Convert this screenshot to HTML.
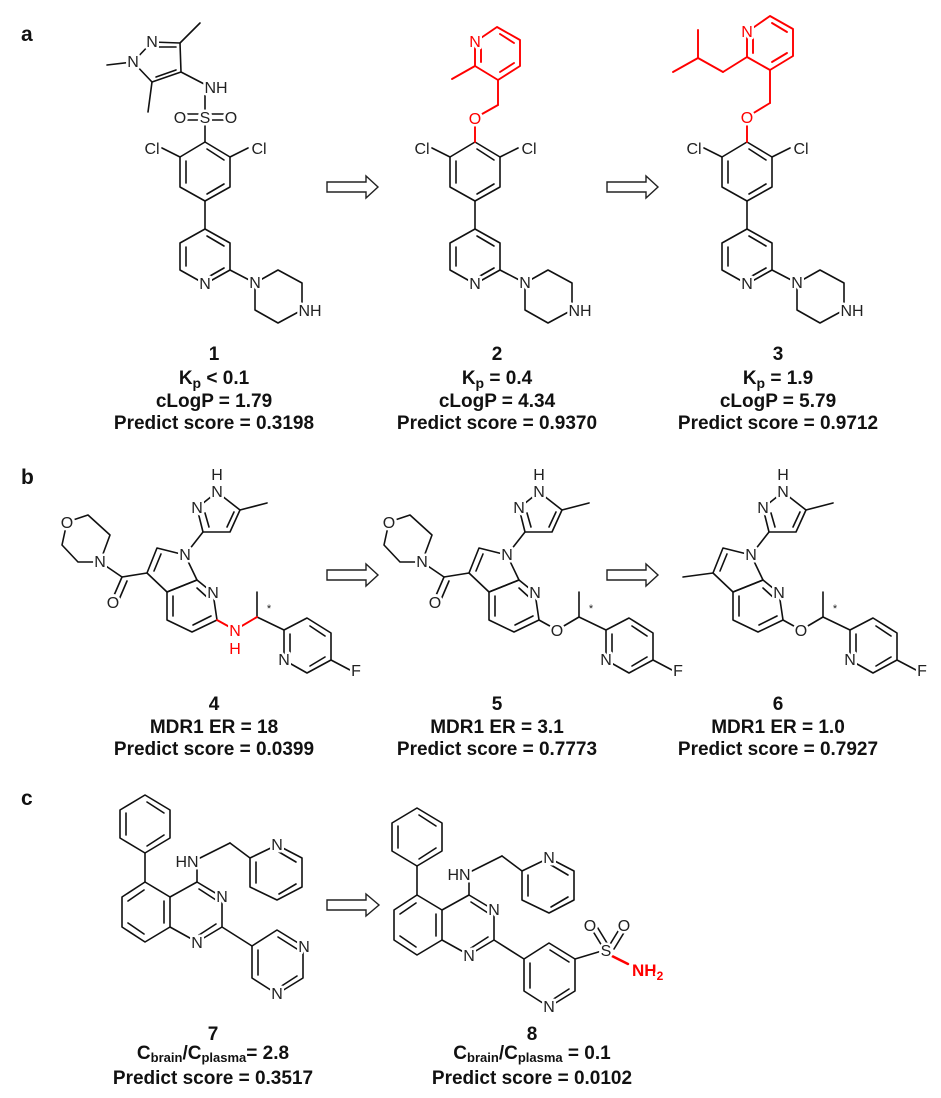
<!DOCTYPE html>
<html><head><meta charset="utf-8"><style>
html,body{margin:0;padding:0;background:#fff;}
svg{display:block;}
.b{stroke:#111;stroke-width:1.6;fill:none;stroke-linecap:round;stroke-linejoin:round;}
.r{stroke:#f00;stroke-width:1.9;fill:none;stroke-linecap:round;stroke-linejoin:round;}
.at{font-family:"Liberation Sans",sans-serif;font-size:16px;fill:#222;text-anchor:middle;stroke:#fff;stroke-width:5px;paint-order:stroke;stroke-linejoin:round;}
.ar{fill:#f00;}
.lb{font-family:"Liberation Sans",sans-serif;font-size:19px;font-weight:bold;fill:#111;text-anchor:middle;}
.pl{font-family:"Liberation Sans",sans-serif;font-size:21px;font-weight:bold;fill:#111;}
.arw{stroke:#222;stroke-width:1.4;fill:#fff;}
.wc{fill:#fff;stroke:none;}
</style></head><body>
<svg width="941" height="1098" viewBox="0 0 941 1098" xmlns="http://www.w3.org/2000/svg">
<text class="pl" x="21" y="41">a</text>
<text class="pl" x="21" y="484">b</text>
<text class="pl" x="21" y="805">c</text>

<!-- ===== Panel a ===== -->
<g class="b">
<path d="M133,62 L152,42 L180,43 L181,72 L152,82 Z"/>
<line x1="157" y1="47" x2="176" y2="47"/>
<line x1="176" y1="70" x2="156" y2="77"/>
<line x1="180" y1="43" x2="200" y2="23"/>
<line x1="152" y1="82" x2="148" y2="112"/>
<line x1="133" y1="62" x2="107" y2="65"/>
<line x1="181" y1="72" x2="208" y2="86"/>
<line x1="205" y1="90" x2="205" y2="117"/>
<line x1="180" y1="114" x2="205" y2="114"/><line x1="180" y1="120" x2="205" y2="120"/>
<line x1="205" y1="114" x2="231" y2="114"/><line x1="205" y1="120" x2="231" y2="120"/>
<line x1="205" y1="117" x2="205" y2="142"/>
</g>
<circle class="wc" cx="180" cy="117" r="8"/><circle class="wc" cx="231" cy="117" r="8"/><circle class="wc" cx="205" cy="117" r="7"/>
<text class="at" x="133" y="67">N</text>
<text class="at" x="152" y="47">N</text>
<text class="at" x="216" y="93">NH</text>
<text class="at" x="180" y="123">O</text>
<text class="at" x="205" y="123">S</text>
<text class="at" x="231" y="123">O</text>

<g id="core">
<g class="b">
<polygon points="205,142 230,157 230,187 205,201 180,187 180,157"/>
<line x1="207" y1="149" x2="224" y2="160"/>
<line x1="224" y1="184" x2="207" y2="194"/>
<line x1="186" y1="183" x2="186" y2="161"/>
<line x1="180" y1="157" x2="162" y2="148"/>
<line x1="230" y1="157" x2="248" y2="148"/>
<line x1="205" y1="201" x2="205" y2="229"/>
<polygon points="205,229 230,243 230,270 205,284 180,270 180,243"/>
<line x1="207" y1="236" x2="224" y2="246"/>
<line x1="224" y1="268" x2="210" y2="276"/>
<line x1="186" y1="266" x2="186" y2="247"/>
<line x1="230" y1="270" x2="255" y2="283"/>
<polygon points="255,283 278,270 302,283 302,310 278,323 255,310"/>
</g>
</g>
<g transform="translate(270,0)"><use href="#core"/></g>
<g transform="translate(542,0)"><use href="#core"/></g>
<text class="at" x="152" y="154">Cl</text><text class="at" x="259" y="154">Cl</text>
<text class="at" x="205" y="289">N</text><text class="at" x="255" y="288">N</text><text class="at" x="310" y="316">NH</text>
<text class="at" x="422" y="154">Cl</text><text class="at" x="529" y="154">Cl</text>
<text class="at" x="475" y="289">N</text><text class="at" x="525" y="288">N</text><text class="at" x="580" y="316">NH</text>
<text class="at" x="694" y="154">Cl</text><text class="at" x="801" y="154">Cl</text>
<text class="at" x="747" y="289">N</text><text class="at" x="797" y="288">N</text><text class="at" x="852" y="316">NH</text>

<g class="r">
<line x1="475" y1="118" x2="475" y2="142"/>
<line x1="475" y1="118" x2="498" y2="105"/>
<line x1="498" y1="105" x2="498" y2="80"/>
<polygon points="475,42 497,27 520,40 520,66 498,80 475,66"/>
<line x1="500" y1="34" x2="514" y2="43"/>
<line x1="514" y1="63" x2="500" y2="72"/>
<line x1="481" y1="62" x2="481" y2="47"/>
<line x1="475" y1="66" x2="452" y2="79"/>
</g>
<circle class="wc" cx="475" cy="118" r="8"/>
<text class="at ar" x="475" y="47">N</text>
<text class="at ar" x="475" y="124">O</text>

<g class="r">
<line x1="747" y1="117" x2="747" y2="142"/>
<line x1="747" y1="117" x2="770" y2="103"/>
<line x1="770" y1="103" x2="770" y2="70"/>
<polygon points="747,32 770,16 793,29 793,56 770,70 747,57"/>
<line x1="772" y1="23" x2="787" y2="32"/>
<line x1="787" y1="53" x2="772" y2="62"/>
<line x1="753" y1="53" x2="753" y2="37"/>
<line x1="747" y1="57" x2="723" y2="72"/>
<line x1="723" y1="72" x2="698" y2="58"/>
<line x1="698" y1="58" x2="698" y2="30"/>
<line x1="698" y1="58" x2="673" y2="72"/>
</g>
<circle class="wc" cx="747" cy="117" r="8"/>
<text class="at ar" x="747" y="37">N</text>
<text class="at ar" x="747" y="123">O</text>

<path class="arw" d="M327,182 H366 V176 L378,187 L366,198 V192 H327 Z"/>
<path class="arw" d="M607,182 H646 V176 L658,187 L646,198 V192 H607 Z"/>

<text class="lb" x="214" y="360">1</text>
<text class="lb" x="214" y="384">K<tspan font-size="14" dy="4">p</tspan><tspan dy="-4"> &lt; 0.1</tspan></text>
<text class="lb" x="214" y="407">cLogP = 1.79</text>
<text class="lb" x="214" y="429">Predict score = 0.3198</text>
<text class="lb" x="497" y="360">2</text>
<text class="lb" x="497" y="384">K<tspan font-size="14" dy="4">p</tspan><tspan dy="-4"> = 0.4</tspan></text>
<text class="lb" x="497" y="407">cLogP = 4.34</text>
<text class="lb" x="497" y="429">Predict score = 0.9370</text>
<text class="lb" x="778" y="360">3</text>
<text class="lb" x="778" y="384">K<tspan font-size="14" dy="4">p</tspan><tspan dy="-4"> = 1.9</tspan></text>
<text class="lb" x="778" y="407">cLogP = 5.79</text>
<text class="lb" x="778" y="429">Predict score = 0.9712</text>

<!-- ===== Panel b ===== -->
<g id="azcore">
<g class="b">
<path d="M217,492 L197,508 L203,532 L230,532 L240,510 Z"/>
<line x1="205" y1="513" x2="209" y2="527"/>
<line x1="227" y1="527" x2="234" y2="512"/>
<line x1="240" y1="510" x2="267" y2="503"/>
<line x1="203" y1="532" x2="185" y2="555"/>
<path d="M185,555 L157,548 L147,573 L167,592 L197,580 Z"/>
<line x1="161" y1="554" x2="154" y2="571"/>
<polygon points="197,580 213,593 217,620 192,632 167,620 167,592"/>
<line x1="197" y1="588" x2="208" y2="598"/>
<line x1="211" y1="616" x2="193" y2="625"/>
<line x1="173" y1="616" x2="173" y2="596"/>
<line x1="257" y1="617" x2="257" y2="592"/>
<line x1="257" y1="617" x2="284" y2="630"/>
<polygon points="284,630 284,660 307,673 331,660 331,633 307,618"/>
<line x1="290" y1="634" x2="290" y2="656"/>
<line x1="310" y1="666" x2="325" y2="657"/>
<line x1="325" y1="636" x2="310" y2="626"/>
<line x1="331" y1="660" x2="350" y2="670"/>
</g>
</g>
<g transform="translate(322,0)"><use href="#azcore"/></g>
<g transform="translate(566,0)"><use href="#azcore"/></g>
<g class="b">
<line x1="147" y1="573" x2="122" y2="577"/>
<line x1="122" y1="577" x2="112" y2="600"/><line x1="127" y1="581" x2="118" y2="602"/>
<line x1="122" y1="577" x2="100" y2="562"/>
<path d="M100,562 L78,562 L62,545 L67,522 L88,515 L110,535 Z"/>
</g>
<g class="r"><line x1="217" y1="620" x2="235" y2="630"/><line x1="235" y1="630" x2="257" y2="617"/></g>
<g class="b">
<line x1="469" y1="573" x2="444" y2="577"/>
<line x1="444" y1="577" x2="434" y2="600"/><line x1="449" y1="581" x2="440" y2="602"/>
<line x1="444" y1="577" x2="422" y2="562"/>
<path d="M422,562 L400,562 L384,545 L389,522 L410,515 L432,535 Z"/>
<line x1="539" y1="620" x2="557" y2="630"/><line x1="557" y1="630" x2="579" y2="617"/>
</g>
<g class="b">
<line x1="713" y1="573" x2="683" y2="577"/>
<line x1="783" y1="620" x2="801" y2="630"/><line x1="801" y1="630" x2="823" y2="617"/>
</g>
<circle class="wc" cx="67" cy="522" r="8"/><circle class="wc" cx="113" cy="602" r="8"/>
<circle class="wc" cx="389" cy="522" r="8"/><circle class="wc" cx="435" cy="602" r="8"/>
<circle class="wc" cx="557" cy="630" r="8"/><circle class="wc" cx="801" cy="630" r="8"/>
<text class="at" x="217" y="480">H</text><text class="at" x="217" y="497">N</text><text class="at" x="197" y="513">N</text>
<text class="at" x="185" y="560">N</text><text class="at" x="213" y="598">N</text>
<text class="at" x="113" y="608">O</text><text class="at" x="100" y="567">N</text><text class="at" x="67" y="528">O</text>
<text class="at ar" x="235" y="636">N</text><text class="at ar" x="235" y="654">H</text>
<text class="at" x="269" y="612" style="font-size:11px">*</text>
<text class="at" x="284" y="665">N</text><text class="at" x="356" y="676">F</text>

<text class="at" x="539" y="480">H</text><text class="at" x="539" y="497">N</text><text class="at" x="519" y="513">N</text>
<text class="at" x="507" y="560">N</text><text class="at" x="535" y="598">N</text>
<text class="at" x="435" y="608">O</text><text class="at" x="422" y="567">N</text><text class="at" x="389" y="528">O</text>
<text class="at" x="557" y="636">O</text>
<text class="at" x="591" y="612" style="font-size:11px">*</text>
<text class="at" x="606" y="665">N</text><text class="at" x="678" y="676">F</text>

<text class="at" x="783" y="480">H</text><text class="at" x="783" y="497">N</text><text class="at" x="763" y="513">N</text>
<text class="at" x="751" y="560">N</text><text class="at" x="779" y="598">N</text>
<text class="at" x="801" y="636">O</text>
<text class="at" x="835" y="612" style="font-size:11px">*</text>
<text class="at" x="850" y="665">N</text><text class="at" x="922" y="676">F</text>

<path class="arw" d="M327,570 H366 V564 L378,575 L366,586 V580 H327 Z"/>
<path class="arw" d="M607,570 H646 V564 L658,575 L646,586 V580 H607 Z"/>

<text class="lb" x="214" y="710">4</text>
<text class="lb" x="214" y="733">MDR1 ER = 18</text>
<text class="lb" x="214" y="755">Predict score = 0.0399</text>
<text class="lb" x="497" y="710">5</text>
<text class="lb" x="497" y="733">MDR1 ER = 3.1</text>
<text class="lb" x="497" y="755">Predict score = 0.7773</text>
<text class="lb" x="778" y="710">6</text>
<text class="lb" x="778" y="733">MDR1 ER = 1.0</text>
<text class="lb" x="778" y="755">Predict score = 0.7927</text>

<!-- ===== Panel c ===== -->
<g id="qcore">
<g class="b">
<polygon points="145,795 170,810 170,838 145,853 120,838 120,810"/>
<line x1="147" y1="802" x2="164" y2="813"/>
<line x1="164" y1="835" x2="147" y2="846"/>
<line x1="126" y1="835" x2="126" y2="813"/>
<line x1="145" y1="853" x2="145" y2="882"/>
<polygon points="145,882 170,897 170,927 145,942 122,927 122,897"/>
<line x1="128" y1="901" x2="144" y2="890"/>
<line x1="128" y1="923" x2="144" y2="934"/>
<line x1="164" y1="901" x2="164" y2="923"/>
<polyline points="170,897 197,882 222,897 222,927 197,942 170,927"/>
<line x1="199" y1="889" x2="216" y2="900"/>
<line x1="216" y1="924" x2="199" y2="935"/>
<line x1="197" y1="882" x2="197" y2="862"/>
<line x1="200" y1="858" x2="230" y2="843"/>
<line x1="230" y1="843" x2="250" y2="858"/>
<polygon points="250,858 277,845 302,858 302,887 277,900 250,887"/>
<line x1="256" y1="862" x2="256" y2="883"/>
<line x1="279" y1="852" x2="296" y2="862"/>
<line x1="296" y1="884" x2="279" y2="894"/>
<line x1="222" y1="927" x2="252" y2="946"/>
<polygon points="252,946 277,930 303,946 303,978 277,994 252,978"/>
<line x1="278" y1="937" x2="297" y2="949"/>
<line x1="297" y1="976" x2="280" y2="987"/>
<line x1="258" y1="950" x2="258" y2="975"/>
</g>
</g>
<g transform="translate(272,13)"><use href="#qcore"/></g>
<text class="at" x="187" y="867">HN</text><text class="at" x="277" y="850">N</text>
<text class="at" x="222" y="902">N</text><text class="at" x="197" y="948">N</text>
<text class="at" x="304" y="952">N</text><text class="at" x="277" y="999">N</text>

<text class="at" x="459" y="880">HN</text><text class="at" x="549" y="863">N</text>
<text class="at" x="494" y="915">N</text><text class="at" x="469" y="961">N</text>
<text class="at" x="549" y="1012">N</text>
<g class="b">
<line x1="575" y1="959" x2="605" y2="950"/>
<line x1="602" y1="946" x2="591" y2="928"/><line x1="607" y1="943" x2="596" y2="925"/>
<line x1="609" y1="946" x2="620" y2="928"/><line x1="614" y1="949" x2="625" y2="931"/>
</g>
<line class="r" x1="610" y1="955" x2="628" y2="964" style="stroke-width:2.5"/>
<circle class="wc" cx="590" cy="925" r="8"/><circle class="wc" cx="624" cy="925" r="8"/><circle class="wc" cx="606" cy="950" r="7"/>
<text class="at" x="606" y="956">S</text>
<text class="at" x="590" y="931">O</text>
<text class="at" x="624" y="931">O</text>
<text class="at ar" x="632" y="976" style="font-weight:bold;font-size:17px;text-anchor:start">NH<tspan font-size="12" dy="4">2</tspan></text>

<path class="arw" d="M327,900 H366 V894 L379,905 L366,916 V910 H327 Z"/>

<text class="lb" x="213" y="1040">7</text>
<text class="lb" x="213" y="1059">C<tspan font-size="13" dy="3">brain</tspan><tspan dy="-3">/C</tspan><tspan font-size="13" dy="3">plasma</tspan><tspan dy="-3">= 2.8</tspan></text>
<text class="lb" x="213" y="1084">Predict score = 0.3517</text>
<text class="lb" x="532" y="1040">8</text>
<text class="lb" x="532" y="1059">C<tspan font-size="13" dy="3">brain</tspan><tspan dy="-3">/C</tspan><tspan font-size="13" dy="3">plasma</tspan><tspan dy="-3"> = 0.1</tspan></text>
<text class="lb" x="532" y="1084">Predict score = 0.0102</text>
</svg>
</body></html>
